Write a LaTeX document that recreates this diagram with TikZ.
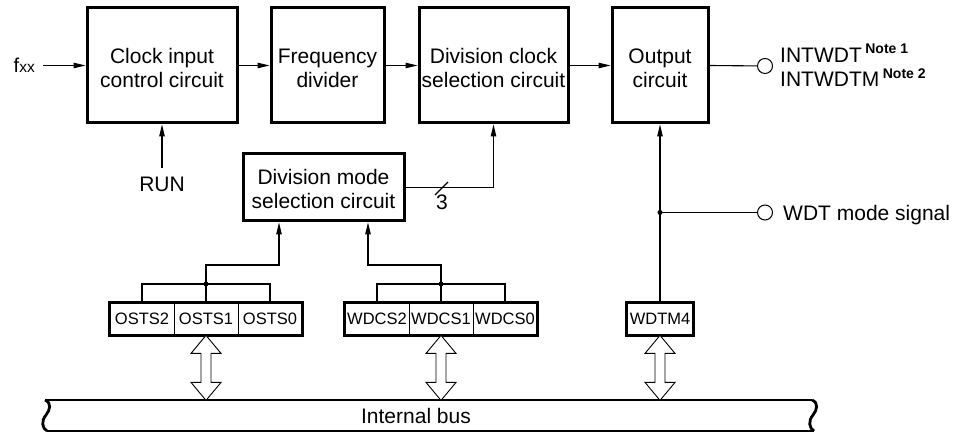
\documentclass[tikz,border=0pt]{standalone}
\usepackage{fontspec}
\setmainfont{Liberation Sans}
\usetikzlibrary{arrows.meta,calc}
\newcommand{\topstrut}{\rule{0pt}{20pt}}
\begin{document}
\begin{tikzpicture}[x=1pt,y=-1pt,
  lbl/.style={font=\fontsize{21}{24}\selectfont, inner sep=0pt},
  blk/.style={draw, line width=3pt, minimum height=115pt, align=center, inner sep=0pt, font=\fontsize{21}{24}\selectfont},
  conn/.style={line width=1.1pt},
  arr/.style={conn, -{Triangle[length=12pt,width=5.5pt]}},
  cell/.style={draw, line width=0.8pt, minimum width=64pt, minimum height=32pt, inner sep=0pt, font=\fontsize{16.5}{18}\selectfont},
  regframe/.style={line width=3pt},
  jdot/.style={circle, fill, inner sep=0pt, minimum size=5pt},
  term/.style={circle, draw, fill=white, line width=1pt, inner sep=0pt, minimum size=15pt},
  dbl/.style={line width=0.9pt, fill=white, line join=miter},
  buslines/.style={line width=2.8pt}
]
\useasboundingbox (0,0) rectangle (953,435);

% main blocks
\node[blk, minimum width=150pt] (cic) at (162,65.5) {\topstrut Clock input\\control circuit};
\node[blk, minimum width=113pt] (fd) at (327.5,65.5) {\topstrut Frequency\\divider};
\node[blk, minimum width=149pt] (dcs) at (493.5,65.5) {\topstrut Division clock\\selection circuit};
\node[blk, minimum width=96pt] (oc) at (660,65.5) {\topstrut Output\\circuit};
\node[blk, minimum width=161pt, minimum height=67pt] (dms) at (323.5,187.5) {\rule{0pt}{18pt}Division mode\\selection circuit};

% input fxx
\node[anchor=base east, inner sep=0pt] (fxx) at (35,73) {\fontsize{20}{20}\selectfont f\fontsize{15.5}{16}\selectfont xx};
\coordinate (fxxend) at (43,65.5);
\draw[arr] (fxxend) -- (cic.west);

\draw[arr] (cic) -- (fd);
\draw[arr] (fd) -- (dcs);
\draw[arr] (dcs) -- (oc);

% RUN
\node[lbl, inner sep=8pt] (run) at (162,184) {RUN};
\draw[arr] (run) -- (cic);

% division mode -> division clock selection
\draw[arr] (dms.east) -| (dcs.south);
\coordinate (sl) at (441.5,188);
\draw[conn] ($(sl)+(-6.5,7)$) -- ($(sl)+(6.5,-6)$);
\node[lbl, anchor=base] (three) at (442,210) {3};

% output terminals
\node[term] (tint) at (765,66) {};
\draw[conn] (oc.east) -- (tint);
\node[lbl, anchor=base west] (intwdt) at (780,63) {INTWDT\,\raisebox{9pt}{\fontsize{14}{16}\selectfont\bfseries Note 1}};
\node[lbl, anchor=base west] (intwdtm) at (780,87) {INTWDTM\,\raisebox{8pt}{\fontsize{14}{16}\selectfont\bfseries Note 2}};

% registers
\node[cell] (o2) at (142,319) {OSTS2};
\node[cell] (o1) at (206,319) {OSTS1};
\node[cell] (o0) at (270,319) {OSTS0};
\draw[regframe] (o2.north west) rectangle (o0.south east);

\node[cell] (w2) at (377,319) {WDCS2};
\node[cell] (w1) at (441,319) {WDCS1};
\node[cell] (w0) at (505,319) {WDCS0};
\draw[regframe] (w2.north west) rectangle (w0.south east);

\node[cell, minimum width=67pt] (wd) at (660,319) {WDTM4};
\draw[regframe] (wd.north west) rectangle (wd.south east);

% OSTS bracket
\coordinate (ob) at (206,284);
\coordinate (oin) at (279,265);
\draw[conn] (o2.north) |- (ob) -| (o0.north);
\draw[conn] (o1.north) -- (ob);
\node[jdot] at (ob) {};
\draw[arr] (ob) |- (oin) -- (oin |- dms.south);

% WDCS bracket
\coordinate (wb) at (441,284);
\coordinate (win) at (368,265);
\draw[conn] (w2.north) |- (wb) -| (w0.north);
\draw[conn] (w1.north) -- (wb);
\node[jdot] at (wb) {};
\draw[arr] (wb) |- (win) -- (win |- dms.south);

% WDTM4 to output circuit
\draw[arr] (wd.north) -- (oc.south);
\coordinate (wj) at (660,212.5);
\node[jdot] at (wj) {};
\node[term] (twdt) at (765,212.5) {};
\draw[conn] (wj) -- (twdt);
\node[lbl, anchor=base west] (wdtms) at (783,221) {WDT mode signal};

% internal bus
\coordinate (bl) at (45,400);
\coordinate (br) at (812,400);
\draw[buslines] (bl) -- (br);
\draw[buslines] ($(bl)+(2,31)$) -- ($(br)+(2,31)$);
\draw[buslines] (bl) .. controls ($(bl)+(7,3)$) and ($(bl)+(5,10)$) .. ($(bl)+(1,15)$) .. controls ($(bl)+(-4,21)$) and ($(bl)+(-3,28)$) .. ($(bl)+(2,31)$);
\draw[buslines] (br) .. controls ($(br)+(7,3)$) and ($(br)+(5,10)$) .. ($(br)+(1,15)$) .. controls ($(br)+(-4,21)$) and ($(br)+(-3,28)$) .. ($(br)+(2,31)$);
\node[lbl] (bus) at (416,416) {Internal bus};

% double arrows
\foreach \r in {o1,w1,wd}{
  \draw[dbl] (\r.south) -- ++(15,18) -- ++(-10,0) -- ++(0,29) -- ++(10,0) -- ++(-15,18) -- ++(-15,-18) -- ++(10,0) -- ++(0,-29) -- ++(-10,0) -- cycle;
}
\end{tikzpicture}
\end{document}
